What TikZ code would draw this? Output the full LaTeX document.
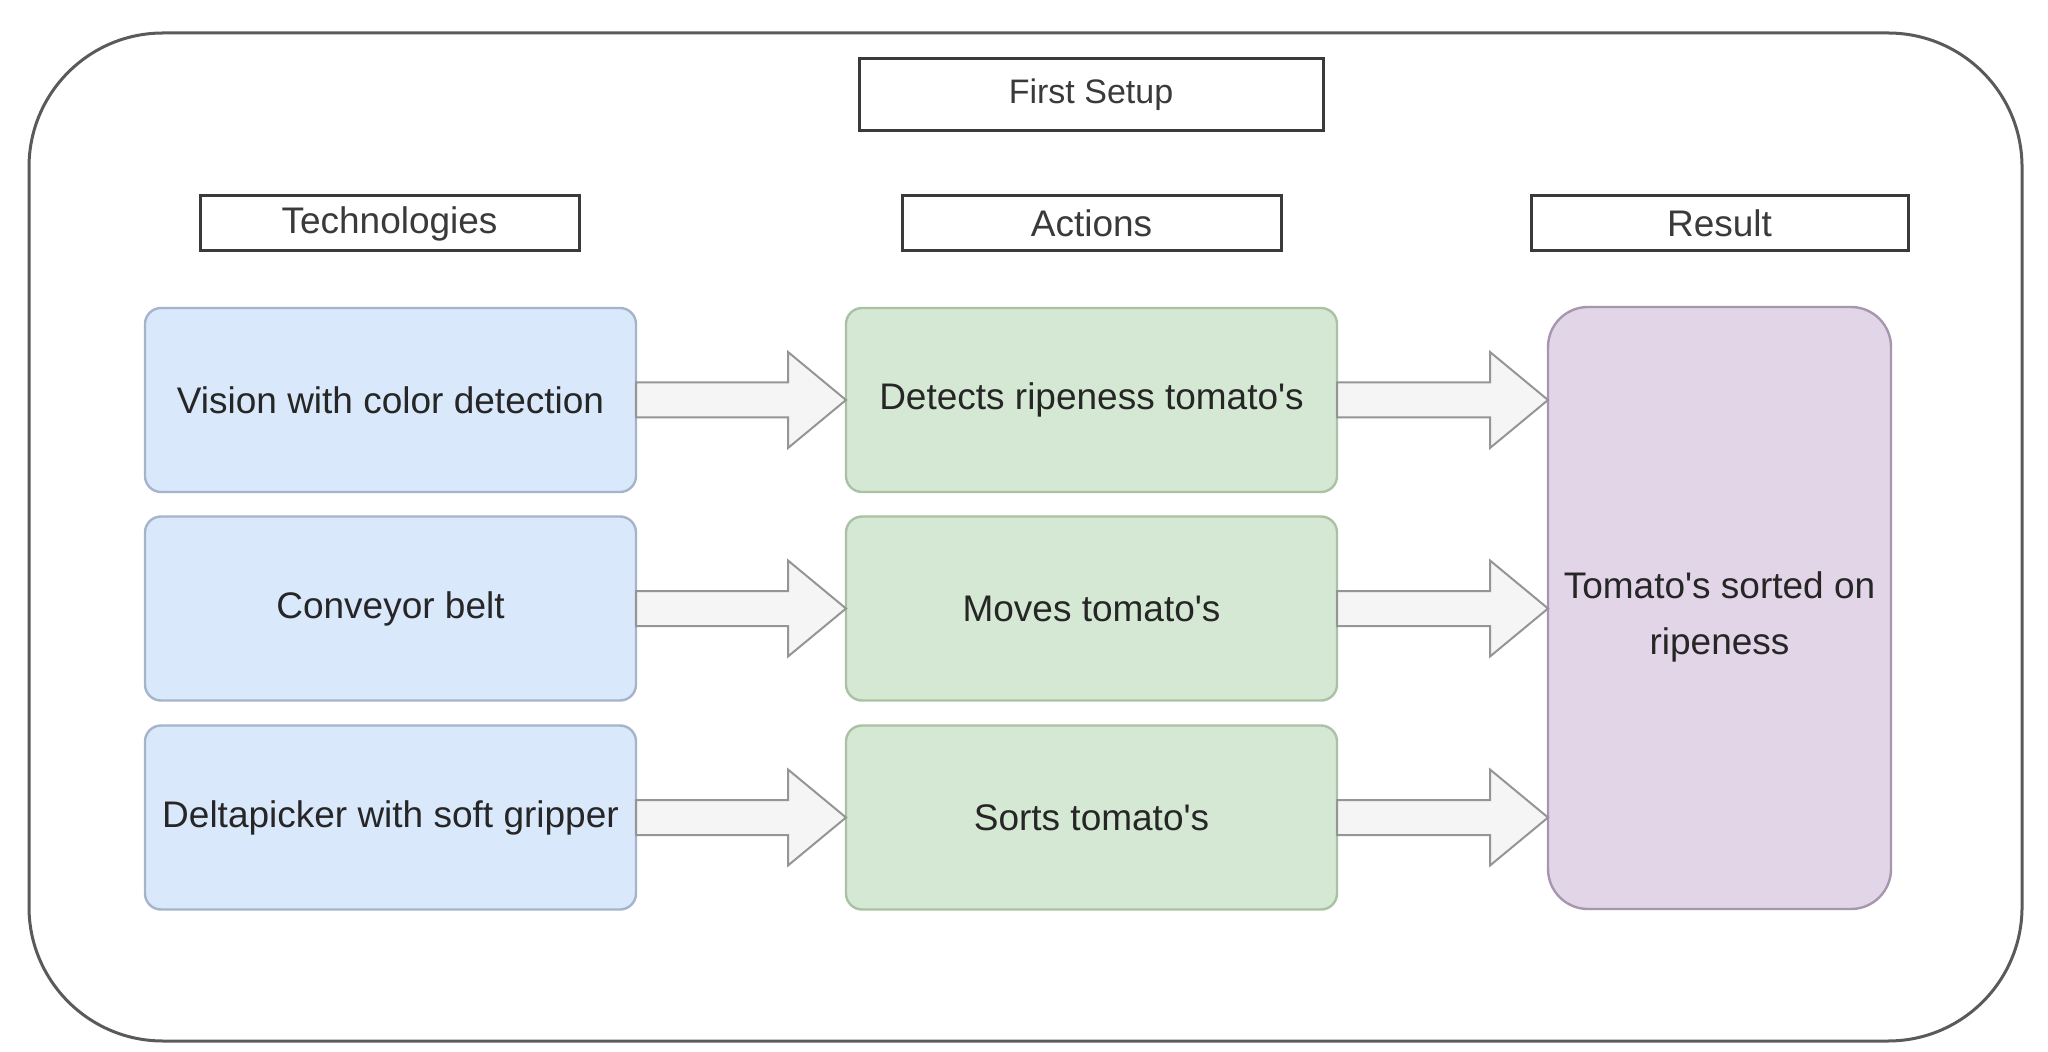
\documentclass[tikz,border=0pt]{standalone}
\usepackage{fontspec}
\setmainfont{Liberation Sans}[Ligatures=TeXOff]
\usetikzlibrary{calc}
\definecolor{txt}{HTML}{262626}
\definecolor{hdr}{HTML}{3A3A3A}
\definecolor{frame}{HTML}{5A5A5A}
\definecolor{bluefill}{HTML}{DAE8FC}
\definecolor{bluedraw}{HTML}{A4B4CA}
\definecolor{greenfill}{HTML}{D5E8D4}
\definecolor{greendraw}{HTML}{A9C2A3}
\definecolor{purplefill}{HTML}{E1D5E7}
\definecolor{purpledraw}{HTML}{A697AE}
\definecolor{arrowfill}{HTML}{F5F5F5}
\definecolor{arrowdraw}{HTML}{959595}
\tikzset{
  every node/.style={inner sep=0pt, outer sep=0pt, text=txt,
    font=\fontsize{18.5}{28}\selectfont, align=center},
  hdrbox/.style={draw=hdr, line width=1.5pt, fill=white, text=hdr,
    minimum width=189.5pt, minimum height=27.5pt},
  techbox/.style={draw=bluedraw, fill=bluefill, line width=1.2pt,
    rounded corners=8pt, minimum width=245.5pt, minimum height=92pt},
  actbox/.style={draw=greendraw, fill=greenfill, line width=1.2pt,
    rounded corners=8pt, minimum width=245.5pt, minimum height=92pt},
  resbox/.style={draw=purpledraw, fill=purplefill, line width=1.2pt,
    rounded corners=20pt, minimum width=171.5pt, minimum height=301pt},
  blockarrow/.style={draw=arrowdraw, fill=arrowfill, line width=1pt, line join=miter}
}
\newcommand\flexarrow[2]{%
  \path[blockarrow] let \p1=(#1.east), \p2=(#2.west) in
    (\x1,\y1+8.75pt) -- (\x2-29pt,\y1+8.75pt) -- (\x2-29pt,\y1+24pt) --
    (\x2,\y1) -- (\x2-29pt,\y1-24pt) -- (\x2-29pt,\y1-8.75pt) --
    (\x1,\y1-8.75pt) -- cycle;}
\begin{document}
\begin{tikzpicture}[x=0.5pt,y=-0.5pt]
\useasboundingbox (0,0) rectangle (2048,1052);
\node[draw=frame, line width=1.5pt, rounded corners=67pt,
  minimum width=996.5pt, minimum height=504pt] (frame) at (1025.5,537) {};

\node[hdrbox, minimum width=232pt, minimum height=36pt,
  font=\fontsize{17}{24}\selectfont] (setup) at (1091,95) {First Setup};
\node[hdrbox] (tech) at (389.5,223.5) {Technologies};
\node[hdrbox] (act) at (1091.5,223.5) {Actions};
\node[hdrbox, minimum width=188.5pt] (res) at (1719.5,223.5) {Result};

\node[techbox] (t1) at (390.5,400) {Vision with color detection};
\node[techbox] (t2) at (390.5,608.5) {Conveyor belt};
\node[techbox] (t3) at (390.5,817.5) {Deltapicker with soft gripper};

\node[actbox] (a1) at (1091.5,400) {Detects ripeness tomato's};
\node[actbox] (a2) at (1091.5,608.5) {Moves tomato's};
\node[actbox] (a3) at (1091.5,817.5) {Sorts tomato's};

\node[resbox] (r) at (1719.5,608) {\rule{0pt}{22pt}Tomato's sorted on\\ripeness};

\flexarrow{t1}{a1}
\flexarrow{t2}{a2}
\flexarrow{t3}{a3}
\flexarrow{a1}{r}
\flexarrow{a2}{r}
\flexarrow{a3}{r}
\end{tikzpicture}
\end{document}
